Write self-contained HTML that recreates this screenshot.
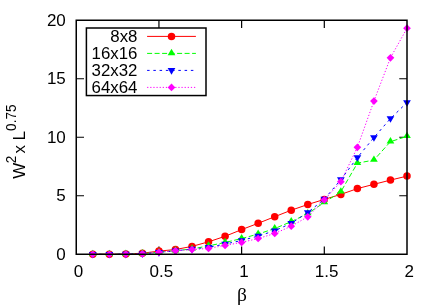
<!DOCTYPE html>
<html><head><meta charset="utf-8"><title>plot</title>
<style>html,body{margin:0;padding:0;background:#fff;width:436px;height:305px;overflow:hidden}</style>
</head><body>
<svg width="436" height="305" viewBox="0 0 436 305" style="display:block;position:absolute;left:0;top:0;will-change:transform" font-family="Liberation Sans, sans-serif" font-size="17">
<rect width="436" height="305" fill="#fff"/>
<path d="M76.25 195.75 h7.75 M407.00 195.75 h-7.75 M76.25 137.25 h7.75 M407.00 137.25 h-7.75 M76.25 78.75 h7.75 M407.00 78.75 h-7.75 M158.94 254.25 v-7.75 M158.94 20.25 v7.75 M241.62 254.25 v-7.75 M241.62 20.25 v7.75 M324.31 254.25 v-7.75 M324.31 20.25 v7.75" fill="none" stroke="#000" stroke-width="1.2"/>
<text x="65.8" y="259.95" text-anchor="end">0</text>
<text x="65.8" y="201.45" text-anchor="end">5</text>
<text x="65.8" y="142.95" text-anchor="end">10</text>
<text x="65.8" y="84.45" text-anchor="end">15</text>
<text x="65.8" y="25.95" text-anchor="end">20</text>
<text x="78.60" y="277" text-anchor="middle">0</text>
<text x="161.29" y="277" text-anchor="middle">0.5</text>
<text x="243.97" y="277" text-anchor="middle">1</text>
<text x="326.66" y="277" text-anchor="middle">1.5</text>
<text x="409.35" y="277" text-anchor="middle">2</text>
<text x="241.9" y="301.2" text-anchor="middle" font-family="Liberation Serif, serif" font-size="19.5">β</text>
<text transform="translate(24.50,178.70) rotate(-90) scale(1,1.02)" font-size="17">W</text>
<text transform="translate(16.00,163.20) rotate(-90) scale(1,1.1)" font-size="13.6">2</text>
<text transform="translate(24.50,153.60) rotate(-90) scale(1,1.02)" font-size="17">x</text>
<text transform="translate(24.50,140.50) rotate(-90) scale(1,1.02)" font-size="17">L</text>
<text transform="translate(16.00,130.90) rotate(-90) scale(1,1.1)" font-size="13.6">0.75</text>
<polyline points="92.79,254.20 109.33,254.20 125.86,254.00 142.40,253.20 158.94,251.10 175.47,249.50 192.01,246.40 208.55,241.80 225.09,236.30 241.62,229.60 258.16,223.30 274.70,216.70 291.24,210.20 307.77,204.50 324.31,199.40 340.85,194.40 357.39,188.60 373.93,184.30 390.46,180.10 407.00,176.10" fill="none" stroke="#ff0000" stroke-width="1.0"/>
<circle cx="92.79" cy="254.20" r="3.75" fill="#ff0000"/>
<circle cx="109.33" cy="254.20" r="3.75" fill="#ff0000"/>
<circle cx="125.86" cy="254.00" r="3.75" fill="#ff0000"/>
<circle cx="142.40" cy="253.20" r="3.75" fill="#ff0000"/>
<circle cx="158.94" cy="251.10" r="3.75" fill="#ff0000"/>
<circle cx="175.47" cy="249.50" r="3.75" fill="#ff0000"/>
<circle cx="192.01" cy="246.40" r="3.75" fill="#ff0000"/>
<circle cx="208.55" cy="241.80" r="3.75" fill="#ff0000"/>
<circle cx="225.09" cy="236.30" r="3.75" fill="#ff0000"/>
<circle cx="241.62" cy="229.60" r="3.75" fill="#ff0000"/>
<circle cx="258.16" cy="223.30" r="3.75" fill="#ff0000"/>
<circle cx="274.70" cy="216.70" r="3.75" fill="#ff0000"/>
<circle cx="291.24" cy="210.20" r="3.75" fill="#ff0000"/>
<circle cx="307.77" cy="204.50" r="3.75" fill="#ff0000"/>
<circle cx="324.31" cy="199.40" r="3.75" fill="#ff0000"/>
<circle cx="340.85" cy="194.40" r="3.75" fill="#ff0000"/>
<circle cx="357.39" cy="188.60" r="3.75" fill="#ff0000"/>
<circle cx="373.93" cy="184.30" r="3.75" fill="#ff0000"/>
<circle cx="390.46" cy="180.10" r="3.75" fill="#ff0000"/>
<circle cx="407.00" cy="176.10" r="3.75" fill="#ff0000"/>
<polyline points="92.79,254.25 109.33,254.25 125.86,254.15 142.40,253.65 158.94,252.25 175.47,250.65 192.01,248.95 208.55,245.85 225.09,242.45 241.62,238.55 258.16,234.05 274.70,228.55 291.24,221.65 307.77,213.55 324.31,202.45 340.85,191.75 357.39,163.15 373.93,160.05 390.46,141.65 407.00,136.35" fill="none" stroke="#00ff00" stroke-width="1.0" stroke-dasharray="5,2.5"/>
<polygon points="92.79,249.65 88.94,256.00 96.64,256.00" fill="#00ff00"/>
<polygon points="109.33,249.65 105.48,256.00 113.17,256.00" fill="#00ff00"/>
<polygon points="125.86,249.55 122.01,255.90 129.71,255.90" fill="#00ff00"/>
<polygon points="142.40,249.05 138.55,255.40 146.25,255.40" fill="#00ff00"/>
<polygon points="158.94,247.65 155.09,254.00 162.79,254.00" fill="#00ff00"/>
<polygon points="175.47,246.05 171.62,252.40 179.32,252.40" fill="#00ff00"/>
<polygon points="192.01,244.35 188.16,250.70 195.86,250.70" fill="#00ff00"/>
<polygon points="208.55,241.25 204.70,247.60 212.40,247.60" fill="#00ff00"/>
<polygon points="225.09,237.85 221.24,244.20 228.94,244.20" fill="#00ff00"/>
<polygon points="241.62,233.95 237.78,240.30 245.47,240.30" fill="#00ff00"/>
<polygon points="258.16,229.45 254.31,235.80 262.01,235.80" fill="#00ff00"/>
<polygon points="274.70,223.95 270.85,230.30 278.55,230.30" fill="#00ff00"/>
<polygon points="291.24,217.05 287.39,223.40 295.09,223.40" fill="#00ff00"/>
<polygon points="307.77,208.95 303.92,215.30 311.62,215.30" fill="#00ff00"/>
<polygon points="324.31,197.85 320.46,204.20 328.16,204.20" fill="#00ff00"/>
<polygon points="340.85,187.15 337.00,193.50 344.70,193.50" fill="#00ff00"/>
<polygon points="357.39,158.55 353.54,164.90 361.24,164.90" fill="#00ff00"/>
<polygon points="373.93,155.45 370.07,161.80 377.78,161.80" fill="#00ff00"/>
<polygon points="390.46,137.05 386.61,143.40 394.31,143.40" fill="#00ff00"/>
<polygon points="407.00,131.75 403.15,138.10 410.85,138.10" fill="#00ff00"/>
<polyline points="92.79,254.25 109.33,254.25 125.86,254.15 142.40,253.75 158.94,252.35 175.47,250.75 192.01,249.15 208.55,247.25 225.09,244.05 241.62,240.45 258.16,236.05 274.70,230.75 291.24,223.25 307.77,212.45 324.31,199.15 340.85,179.65 357.39,157.55 373.93,137.55 390.46,118.55 407.00,102.55" fill="none" stroke="#0000ff" stroke-width="1.0" stroke-dasharray="2.5,3.75"/>
<polygon points="92.79,258.55 88.94,251.95 96.64,251.95" fill="#0000ff"/>
<polygon points="109.33,258.55 105.48,251.95 113.17,251.95" fill="#0000ff"/>
<polygon points="125.86,258.45 122.01,251.85 129.71,251.85" fill="#0000ff"/>
<polygon points="142.40,258.05 138.55,251.45 146.25,251.45" fill="#0000ff"/>
<polygon points="158.94,256.65 155.09,250.05 162.79,250.05" fill="#0000ff"/>
<polygon points="175.47,255.05 171.62,248.45 179.32,248.45" fill="#0000ff"/>
<polygon points="192.01,253.45 188.16,246.85 195.86,246.85" fill="#0000ff"/>
<polygon points="208.55,251.55 204.70,244.95 212.40,244.95" fill="#0000ff"/>
<polygon points="225.09,248.35 221.24,241.75 228.94,241.75" fill="#0000ff"/>
<polygon points="241.62,244.75 237.78,238.15 245.47,238.15" fill="#0000ff"/>
<polygon points="258.16,240.35 254.31,233.75 262.01,233.75" fill="#0000ff"/>
<polygon points="274.70,235.05 270.85,228.45 278.55,228.45" fill="#0000ff"/>
<polygon points="291.24,227.55 287.39,220.95 295.09,220.95" fill="#0000ff"/>
<polygon points="307.77,216.75 303.92,210.15 311.62,210.15" fill="#0000ff"/>
<polygon points="324.31,203.45 320.46,196.85 328.16,196.85" fill="#0000ff"/>
<polygon points="340.85,183.95 337.00,177.35 344.70,177.35" fill="#0000ff"/>
<polygon points="357.39,161.85 353.54,155.25 361.24,155.25" fill="#0000ff"/>
<polygon points="373.93,141.85 370.07,135.25 377.78,135.25" fill="#0000ff"/>
<polygon points="390.46,122.85 386.61,116.25 394.31,116.25" fill="#0000ff"/>
<polygon points="407.00,106.85 403.15,100.25 410.85,100.25" fill="#0000ff"/>
<polyline points="92.79,254.25 109.33,254.25 125.86,254.10 142.40,253.80 158.94,252.30 175.47,250.80 192.01,249.60 208.55,248.40 225.09,245.40 241.62,242.40 258.16,238.50 274.70,233.50 291.24,226.20 307.77,216.80 324.31,199.90 340.85,181.70 357.39,147.30 373.93,101.10 390.46,57.80 407.00,28.20" fill="none" stroke="#ff00ff" stroke-width="1.0" stroke-dasharray="1.25,1.875"/>
<polygon points="92.79,250.40 96.64,254.25 92.79,258.10 88.94,254.25" fill="#ff00ff"/>
<polygon points="109.33,250.40 113.17,254.25 109.33,258.10 105.48,254.25" fill="#ff00ff"/>
<polygon points="125.86,250.25 129.71,254.10 125.86,257.95 122.01,254.10" fill="#ff00ff"/>
<polygon points="142.40,249.95 146.25,253.80 142.40,257.65 138.55,253.80" fill="#ff00ff"/>
<polygon points="158.94,248.45 162.79,252.30 158.94,256.15 155.09,252.30" fill="#ff00ff"/>
<polygon points="175.47,246.95 179.32,250.80 175.47,254.65 171.62,250.80" fill="#ff00ff"/>
<polygon points="192.01,245.75 195.86,249.60 192.01,253.45 188.16,249.60" fill="#ff00ff"/>
<polygon points="208.55,244.55 212.40,248.40 208.55,252.25 204.70,248.40" fill="#ff00ff"/>
<polygon points="225.09,241.55 228.94,245.40 225.09,249.25 221.24,245.40" fill="#ff00ff"/>
<polygon points="241.62,238.55 245.47,242.40 241.62,246.25 237.78,242.40" fill="#ff00ff"/>
<polygon points="258.16,234.65 262.01,238.50 258.16,242.35 254.31,238.50" fill="#ff00ff"/>
<polygon points="274.70,229.65 278.55,233.50 274.70,237.35 270.85,233.50" fill="#ff00ff"/>
<polygon points="291.24,222.35 295.09,226.20 291.24,230.05 287.39,226.20" fill="#ff00ff"/>
<polygon points="307.77,212.95 311.62,216.80 307.77,220.65 303.92,216.80" fill="#ff00ff"/>
<polygon points="324.31,196.05 328.16,199.90 324.31,203.75 320.46,199.90" fill="#ff00ff"/>
<polygon points="340.85,177.85 344.70,181.70 340.85,185.55 337.00,181.70" fill="#ff00ff"/>
<polygon points="357.39,143.45 361.24,147.30 357.39,151.15 353.54,147.30" fill="#ff00ff"/>
<polygon points="373.93,97.25 377.78,101.10 373.93,104.95 370.07,101.10" fill="#ff00ff"/>
<polygon points="390.46,53.95 394.31,57.80 390.46,61.65 386.61,57.80" fill="#ff00ff"/>
<polygon points="407.00,24.35 410.85,28.20 407.00,32.05 403.15,28.20" fill="#ff00ff"/>
<rect x="76.25" y="20.25" width="330.75" height="234.00" fill="none" stroke="#000" stroke-width="1.5"/>
<rect x="86.40" y="28.00" width="119.60" height="67.55" fill="#fff" stroke="#000" stroke-width="1.5"/>
<text transform="translate(137.45,41.85) scale(0.975,1)" text-anchor="end" font-size="17.3">8x8</text>
<path d="M147.1 36.40 H195.9" stroke="#ff0000" stroke-width="1.0" fill="none"/>
<circle cx="171.50" cy="36.40" r="3.75" fill="#ff0000"/>
<text transform="translate(137.45,58.85) scale(0.975,1)" text-anchor="end" font-size="17.3">16x16</text>
<path d="M147.1 53.40 H195.9" stroke="#00ff00" stroke-width="1.0" fill="none" stroke-dasharray="5,2.5"/>
<polygon points="171.50,48.80 167.65,55.15 175.35,55.15" fill="#00ff00"/>
<text transform="translate(137.45,75.85) scale(0.975,1)" text-anchor="end" font-size="17.3">32x32</text>
<path d="M147.1 70.40 H195.9" stroke="#0000ff" stroke-width="1.0" fill="none" stroke-dasharray="2.5,3.75"/>
<polygon points="171.50,74.70 167.65,68.10 175.35,68.10" fill="#0000ff"/>
<text transform="translate(137.45,92.85) scale(0.975,1)" text-anchor="end" font-size="17.3">64x64</text>
<path d="M147.1 87.40 H195.9" stroke="#ff00ff" stroke-width="1.0" fill="none" stroke-dasharray="1.25,1.875"/>
<polygon points="171.50,83.55 175.35,87.40 171.50,91.25 167.65,87.40" fill="#ff00ff"/>
</svg>
</body></html>
